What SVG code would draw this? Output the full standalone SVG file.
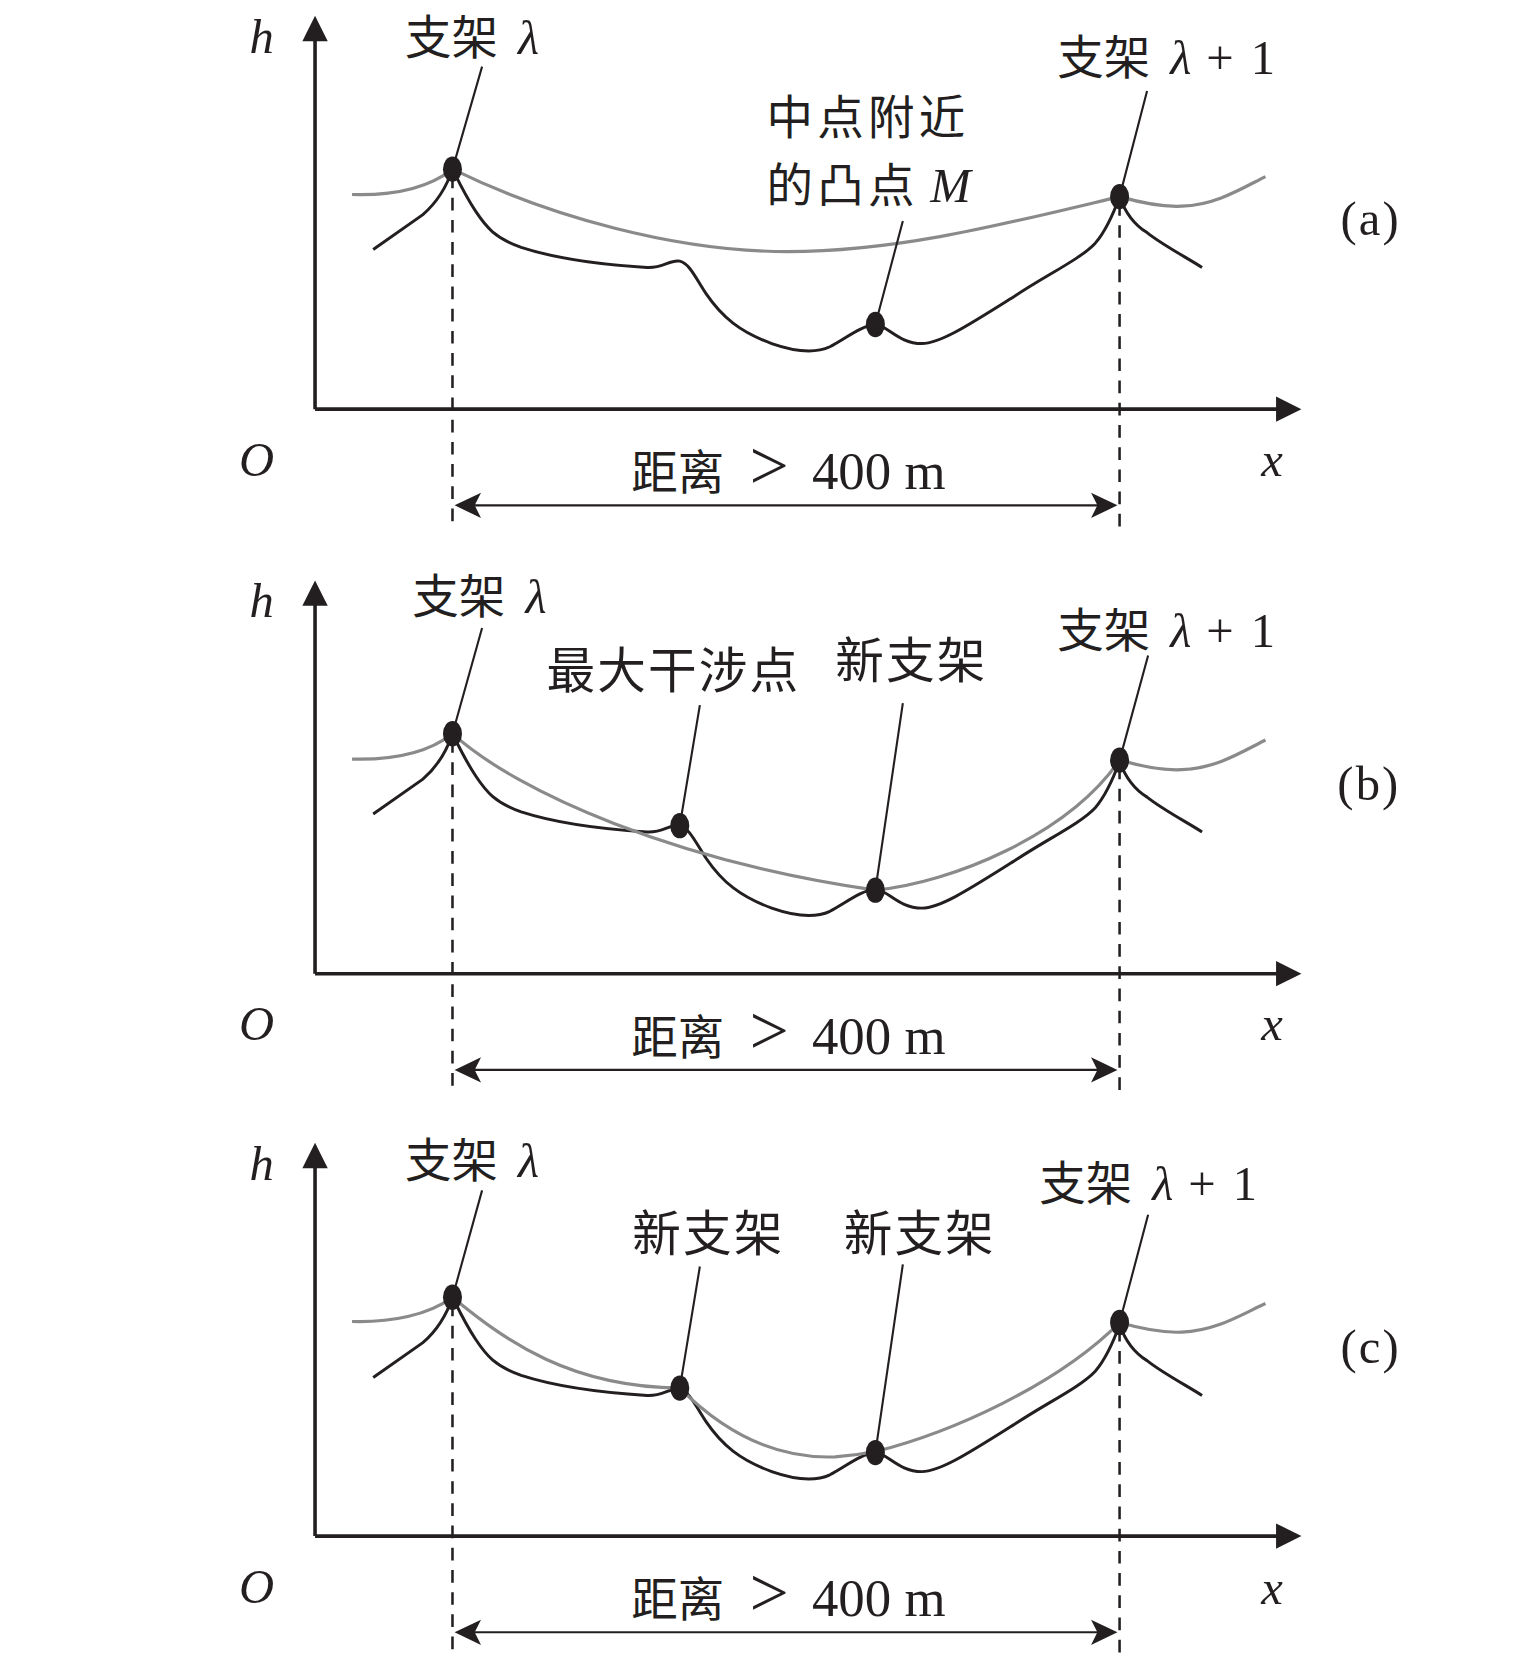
<svg xmlns="http://www.w3.org/2000/svg" width="1535" height="1654" viewBox="0 0 1535 1654">
<style>
.cjk{font-family:"Noto Sans CJK SC","Noto Sans CJK JP",sans-serif;font-size:44px;fill:#231f20}
.lbl{font-size:46px;letter-spacing:2px}
.lbm{letter-spacing:4px}
.ser{font-family:"Liberation Serif","Noto Sans CJK SC",serif;font-size:46px;fill:#231f20}
.it{font-style:italic}
.num{font-size:50px}
.ax{stroke:#231f20;stroke-width:3.4;fill:none}
.terr{stroke:#231f20;stroke-width:2.8;fill:none}
.gray{stroke:#8a8a8a;stroke-width:3;fill:none}
.lead{stroke:#231f20;stroke-width:2;fill:none}
.dash{stroke:#231f20;stroke-width:2.4;stroke-dasharray:12 9;fill:none}
.pt{fill:#231f20}
.ah{fill:#231f20;stroke:none}
</style>
<defs>
<path id="terrain" class="terr" d="M353,236 L400,203 C415,190 424,172 428,160 C433,170 440,185 450,200 C460,215 468,225 493,234 C530,246 580,251 612,253 C627,254 634,245 643,247 C652,249 658,263 668,278 C683,300 700,314 730,325 C750,332 770,335 785,328 C800,320 815,308 828,307 C840,308 850,325 872,325 C890,325 920,305 960,280 C990,260 1022,245 1036,230 C1048,216 1055,197 1059,186 C1064,200 1072,212 1085,220 C1100,232 1125,245 1137,253"/>
<g id="frame">
<path class="ax" d="M298,387 V36 M298,387 H1210"/>
<path class="ah" d="M298,15 L286,39 L310,39 Z"/>
<path class="ah" d="M1231,387 L1207,375 L1207,399 Z"/>
<path class="lead" d="M445,478 H1042" stroke-width="3"/>
<path class="ah" d="M430,478 L455,466 L449,478 L455,490 Z"/>
<path class="ah" d="M1057,478 L1032,466 L1038,478 L1032,490 Z"/>
</g>
</defs>
<rect width="1535" height="1654" fill="#fff"/>
<g transform="scale(1.0572)">
<g id="connectors">
<use href="#frame"/>
<use href="#frame" transform="translate(0,534)"/>
<use href="#frame" transform="translate(0,1066)"/>
<use href="#terrain"/>
<use href="#terrain" transform="translate(0,534)"/>
<use href="#terrain" transform="translate(0,1067)"/>
<path class="dash" d="M428,166 V500 M1059,192 V500"/>
<path class="dash" d="M428,700 V1034 M1059,725 V1034"/>
<path class="dash" d="M428,1233 V1566 M1059,1257 V1566"/>
<path class="gray" d="M333,184 C370,185 405,178 428,160 C520,205 640,238 745,238 C850,238 950,212 1059,186 C1080,192 1100,196 1118,195 C1150,194 1175,178 1197,167"/>
<path class="gray" d="M333,718 C370,719 405,712 428,694 C490,750 640,815 828,842 C900,835 1010,790 1059,719 C1080,725 1100,729 1118,728 C1150,727 1175,711 1197,700"/>
<path class="gray" d="M333,1250 C370,1251 405,1244 428,1227 C480,1270 540,1312 643,1313 C690,1360 740,1380 790,1378 C805,1377 818,1375 828,1373 C900,1355 1000,1310 1059,1251 C1080,1257 1100,1261 1118,1260 C1150,1259 1175,1243 1197,1233"/>
<path class="lead" d="M456,63 L428,160 M1085,86 L1059,186 M854,209 L828,307"/>
<path class="lead" d="M456,594 L428,694 M662,667 L643,781 M854,665 L828,842 M1086,620 L1059,719"/>
<path class="lead" d="M456,1126 L428,1227 M662,1198 L643,1313 M854,1196 L828,1374 M1086,1149 L1059,1251"/>
</g>
<g id="panel-a">
<text class="ser it" x="236" y="50" font-size="48">h</text>
<text class="ser it" x="226" y="450" font-size="48">O</text>
<text class="ser it" x="1193" y="450" font-size="48">x</text>
<text class="ser" y="463"><tspan class="cjk" x="597" font-size="46">距离</tspan><tspan x="709" font-size="66">&gt;</tspan><tspan class="num" x="768">400 m</tspan></text>
<text class="ser" x="1268" y="222" font-size="54" letter-spacing="2">(a)</text>
</g>
<g id="node-a-lambda"><text class="ser" y="51"><tspan class="cjk" x="383">支架</tspan><tspan class="it" x="490">λ</tspan></text><ellipse class="pt" cx="428" cy="160" rx="9" ry="12"/></g>
<g id="node-a-lambda1"><text class="ser" y="70"><tspan class="cjk" x="1000">支架</tspan><tspan class="it" x="1107">λ</tspan><tspan x="1141">+</tspan><tspan x="1183">1</tspan></text><ellipse class="pt" cx="1059" cy="186" rx="9" ry="12"/></g>
<g id="node-a-M"><text class="cjk lbm" x="725" y="127">中点附近</text><text class="ser" y="191"><tspan class="cjk lbm" x="725">的凸点</tspan><tspan class="it" x="880">M</tspan></text><ellipse class="pt" cx="828" cy="307" rx="9" ry="12"/></g>
<g id="panel-b">
<text class="ser it" x="236" y="584" font-size="48">h</text>
<text class="ser it" x="226" y="984" font-size="48">O</text>
<text class="ser it" x="1193" y="984" font-size="48">x</text>
<text class="ser" y="997"><tspan class="cjk" x="597" font-size="46">距离</tspan><tspan x="709" font-size="66">&gt;</tspan><tspan class="num" x="768">400 m</tspan></text>
<text class="ser" x="1265" y="757" font-size="54" letter-spacing="2">(b)</text>
</g>
<g id="node-b-lambda"><text class="ser" y="580"><tspan class="cjk" x="390">支架</tspan><tspan class="it" x="497">λ</tspan></text><ellipse class="pt" cx="428" cy="694" rx="9" ry="12"/></g>
<g id="node-b-lambda1"><text class="ser" y="612"><tspan class="cjk" x="1000">支架</tspan><tspan class="it" x="1107">λ</tspan><tspan x="1141">+</tspan><tspan x="1183">1</tspan></text><ellipse class="pt" cx="1059" cy="719" rx="9" ry="12"/></g>
<g id="node-b-max"><text class="cjk lbl" x="517" y="651">最大干涉点</text><ellipse class="pt" cx="643" cy="781" rx="9" ry="12"/></g>
<g id="node-b-new"><text class="cjk lbl" x="790" y="641">新支架</text><ellipse class="pt" cx="828" cy="842" rx="9" ry="12"/></g>
<g id="panel-c">
<text class="ser it" x="236" y="1116" font-size="48">h</text>
<text class="ser it" x="226" y="1516" font-size="48">O</text>
<text class="ser it" x="1193" y="1517" font-size="48">x</text>
<text class="ser" y="1529"><tspan class="cjk" x="597" font-size="46">距离</tspan><tspan x="709" font-size="66">&gt;</tspan><tspan class="num" x="768">400 m</tspan></text>
<text class="ser" x="1268" y="1289" font-size="54" letter-spacing="2">(c)</text>
</g>
<g id="node-c-lambda"><text class="ser" y="1113"><tspan class="cjk" x="383">支架</tspan><tspan class="it" x="490">λ</tspan></text><ellipse class="pt" cx="428" cy="1227" rx="9" ry="12"/></g>
<g id="node-c-lambda1"><text class="ser" y="1135"><tspan class="cjk" x="983">支架</tspan><tspan class="it" x="1090">λ</tspan><tspan x="1124">+</tspan><tspan x="1166">1</tspan></text><ellipse class="pt" cx="1059" cy="1251" rx="9" ry="12"/></g>
<g id="node-c-new1"><text class="cjk lbl" x="598" y="1183">新支架</text><ellipse class="pt" cx="643" cy="1313" rx="9" ry="12"/></g>
<g id="node-c-new2"><text class="cjk lbl" x="798" y="1183">新支架</text><ellipse class="pt" cx="828" cy="1374" rx="9" ry="12"/></g>
</g>
</svg>
